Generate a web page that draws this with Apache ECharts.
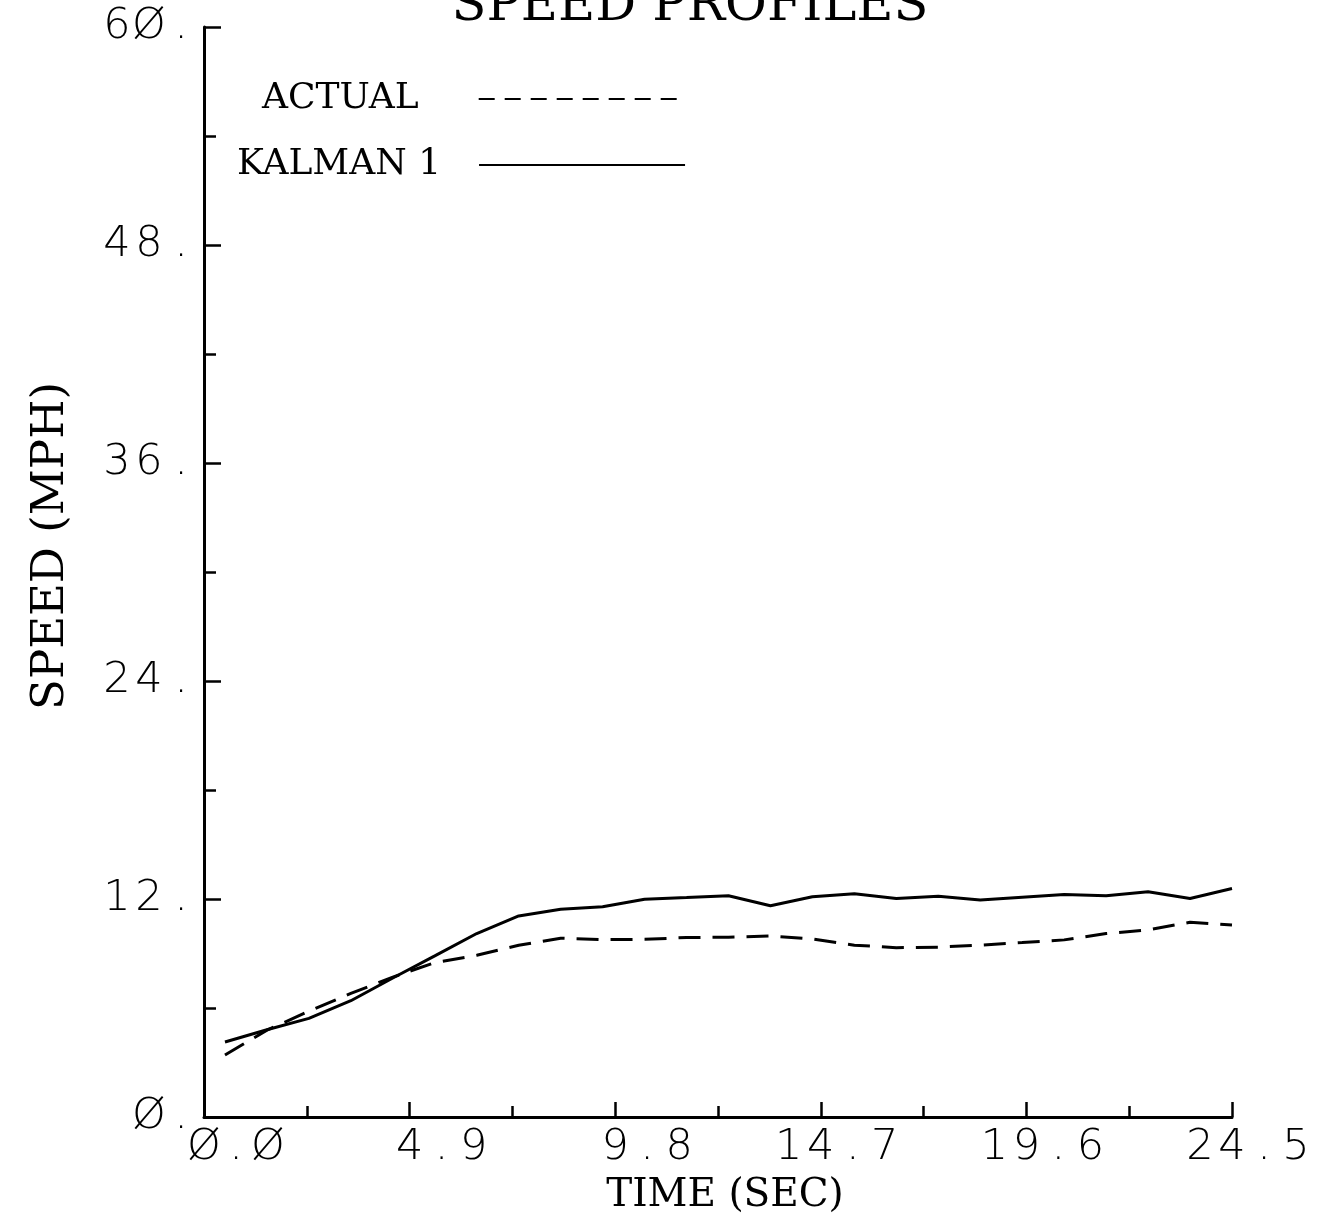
<!DOCTYPE html>
<html>
<head>
<meta charset="utf-8">
<script src="https://cdn.jsdelivr.net/npm/echarts@6/dist/echarts.min.js"></script>
<style>
  html, body { margin: 0; padding: 0; background: #fff; }
  #chart { width: 1322px; height: 1224px; }
</style>
</head>
<body>
<div id="chart"></div>
<script>
// sample times (sec) and speeds (mph)
const timeSec = [0.5, 1.5, 2.5, 3.5, 4.5, 5.5, 6.5, 7.5, 8.5, 9.5, 10.5, 11.5, 12.5,
  13.5, 14.5, 15.5, 16.5, 17.5, 18.5, 19.5, 20.5, 21.5, 22.5, 23.5, 24.5];
const actualMph = [3.41, 4.78, 5.82, 6.8, 7.7, 8.5, 8.9, 9.45, 9.84, 9.77, 9.78, 9.88, 9.9,
  9.96, 9.8, 9.46, 9.32, 9.35, 9.46, 9.6, 9.75, 10.1, 10.3, 10.72, 10.57];
const kalmanMph = [4.13, 4.8, 5.43, 6.4, 7.65, 8.87, 10.1, 11.07, 11.44, 11.57, 11.99, 12.08, 12.18,
  11.63, 12.12, 12.29, 12.03, 12.15, 11.94, 12.1, 12.25, 12.18, 12.4, 12.03, 12.58];

// tick labels as plotted (slashed zeros)
const xTickLabels = ['Ø.Ø', '4.9', '9.8', '14.7', '19.6', '24.5'];
const yTickLabels = ['Ø.', '12.', '24.', '36.', '48.', '6Ø.'];

const chartDom = document.getElementById('chart');
const chart = echarts.init(chartDom);

const serif = '"DejaVu Serif", "Liberation Serif", serif';
const plotFont = { fontFamily: '"DejaVu Sans", sans-serif', fontWeight: 200, fontSize: 43, color: '#000' };

// one fixed-width cell per character, like a pen plotter
function cells(label, intSlots) {
  const parts = label.split('.');
  let out = '';
  for (let k = parts[0].length; k < intSlots; k++) out += '{c| }';
  for (const ch of parts[0]) out += '{c|' + ch + '}';
  out += '{c|.}';
  for (const ch of parts[1]) out += '{c|' + ch + '}';
  return out;
}

const richCell = { c: Object.assign({ width: 32, align: 'center' }, plotFont) };

const data = (ys) => timeSec.map((t, i) => [t, ys[i]]);

const option = {
  animation: false,
  backgroundColor: '#fff',
  title: {
    text: 'SPEED PROFILES',
    left: 685,
    top: -24,
    textAlign: 'center',
    textStyle: { fontFamily: serif, fontSize: 51, fontWeight: 'normal', color: '#000' }
  },
  legend: [
    {
      data: ['ACTUAL'],
      left: 262, top: 81, padding: 0,
      align: 'right',
      itemWidth: 206, itemHeight: 20,
      itemStyle: { opacity: 0 },
      lineStyle: { type: [16, 10], width: 2 },
      textStyle: { fontFamily: serif, fontSize: 36, color: '#000', padding: [0, 55, 0, 0] }
    },
    {
      data: ['KALMAN 1'],
      left: 237, top: 147, padding: 0,
      align: 'right',
      itemWidth: 206, itemHeight: 20,
      itemStyle: { opacity: 0 },
      lineStyle: { width: 2 },
      textStyle: { fontFamily: serif, fontSize: 36, color: '#000', padding: [0, 33, 0, 0] }
    }
  ],
  grid: { left: 204, right: 90, top: 27, bottom: 107 },
  xAxis: {
    type: 'value',
    min: 0, max: 24.5, interval: 4.9,
    name: 'TIME (SEC)',
    nameLocation: 'middle',
    nameGap: 59,
    nameTextStyle: { fontFamily: serif, fontSize: 39, color: '#000', padding: [0, 0, 0, 14] },
    axisLine: { show: true, lineStyle: { color: '#000', width: 3 } },
    axisTick: { show: true, inside: true, length: 15, lineStyle: { color: '#000', width: 2.5 } },
    minorTick: { show: true, splitNumber: 2, length: 11, lineStyle: { color: '#000', width: 2.5 } },
    splitLine: { show: false },
    axisLabel: {
      margin: 9,
      formatter: (v) => cells(xTickLabels[Math.round(v / 4.9)], 3),
      rich: richCell
    }
  },
  yAxis: {
    type: 'value',
    min: 0, max: 60, interval: 12,
    name: 'SPEED (MPH)',
    nameLocation: 'middle',
    nameRotate: 90,
    nameGap: 130,
    nameTextStyle: { fontFamily: serif, fontSize: 45, color: '#000', padding: [0, 0, 0, 52] },
    axisLine: { show: true, lineStyle: { color: '#000', width: 3 } },
    axisTick: { show: true, inside: true, length: 17, lineStyle: { color: '#000', width: 2.5 } },
    minorTick: { show: true, splitNumber: 2, length: 12, lineStyle: { color: '#000', width: 2.5 } },
    splitLine: { show: false },
    axisLabel: {
      margin: 7,
      formatter: (v) => cells(yTickLabels[Math.round(v / 12)], 0),
      rich: richCell
    }
  },
  series: [
    {
      name: 'ACTUAL',
      type: 'line',
      data: data(actualMph),
      symbol: 'none',
      color: '#000',
      lineStyle: { color: '#000', width: 3, type: [22, 12] }
    },
    {
      name: 'KALMAN 1',
      type: 'line',
      data: data(kalmanMph),
      symbol: 'none',
      color: '#000',
      lineStyle: { color: '#000', width: 3 }
    }
  ]
};

chart.setOption(option);
</script>
</body>
</html>
